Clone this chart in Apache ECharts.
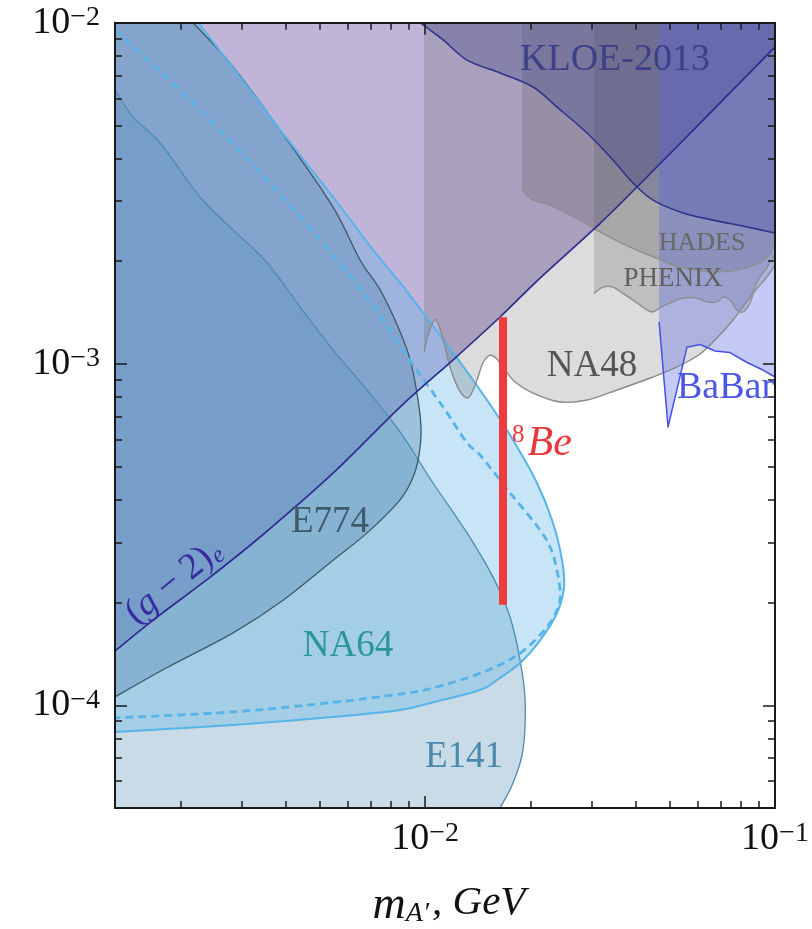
<!DOCTYPE html>
<html><head><meta charset="utf-8">
<script src="https://cdn.jsdelivr.net/npm/echarts@6/dist/echarts.min.js"></script>
<style>html,body{margin:0;padding:0;background:#fff}#c{width:812px;height:929px}</style>
</head><body><div id="c"></div>
<script>
// ---- axis ranges & ticks ----
const X_MIN = 0.0013, X_MAX = 0.1, Y_MIN = 5e-5, Y_MAX = 0.01;
const xMajorTicks = [0.01, 0.1];
const xMinorTicks = [0.002,0.003,0.004,0.005,0.006,0.007,0.008,0.009,0.02,0.03,0.04,0.05,0.06,0.07,0.08,0.09];
const yMajorTicks = [0.0001, 0.001, 0.01];
const yMinorTicks = [0.00006,0.00007,0.00008,0.00009,0.0002,0.0003,0.0004,0.0005,0.0006,0.0007,0.0008,0.0009,0.002,0.003,0.004,0.005,0.006,0.007,0.008,0.009];

// ---- curves [m_A' (GeV), epsilon] ----
const g2Line = [[1.30e-3,1.443e-4],[1.671e-3,1.777e-4],[2.431e-3,2.374e-4],[3.377e-3,3.112e-4],[5.459e-3,4.79e-4],[8.483e-3,7.48e-4],[1.219e-2,1.041e-3],[1.638e-2,1.373e-3],[2.131e-2,1.786e-3],[3.020e-2,2.47e-3],[4.034e-2,3.30e-3],[0.1,8.49e-3]];
const e774 = [[2.174e-3,1e-2],[2.828e-3,7.42e-3],[4.035e-3,4.53e-3],[5.459e-3,2.88e-3],[6.520e-3,2.017e-3],[7.437e-3,1.65e-3],[8.373e-3,1.283e-3],[9.061e-3,1.03e-3],[9.550e-3,7.84e-4],[9.74e-3,6.41e-4],[9.61e-3,5.41e-4],[9.242e-3,4.67e-4],[8.483e-3,4.00e-4],[6.827e-3,3.20e-4],[5.459e-3,2.66e-4],[3.929e-3,2.03e-4],[2.828e-3,1.63e-4],[1.832e-3,1.29e-4],[1.30e-3,1.058e-4]];
const e141 = [[1.30e-3,6.35e-3],[1.465e-3,5.29e-3],[1.750e-3,4.44e-3],[2.276e-3,3.085e-3],[2.828e-3,2.47e-3],[3.537e-3,1.98e-3],[4.394e-3,1.47e-3],[5.459e-3,1.10e-3],[6.827e-3,8.39e-4],[8.483e-3,6.32e-4],[1.054e-2,4.48e-4],[1.318e-2,3.20e-4],[1.564e-2,2.374e-4],[1.750e-2,1.81e-4],[1.868e-2,1.357e-4],[1.931e-2,1.04e-4],[1.905e-2,7.40e-5],[1.784e-2,5.92e-5],[1.638e-2,5.0e-5]];
const na64 = [[2.246e-3,1e-2],[2.961e-3,6.93e-3],[3.853e-3,4.85e-3],[5.459e-3,3.085e-3],[7.10e-3,2.158e-3],[8.483e-3,1.73e-3],[1.013e-2,1.364e-3],[1.219e-2,1.06e-3],[1.503e-2,7.84e-4],[1.784e-2,5.99e-4],[2.089e-2,4.48e-4],[2.321e-2,3.42e-4],[2.463e-2,2.66e-4],[2.495e-2,2.22e-4],[2.383e-2,1.864e-4],[2.131e-2,1.55e-4],[1.868e-2,1.33e-4],[1.605e-2,1.186e-4],[1.436e-2,1.108e-4],[1.054e-2,1.02e-4],[8.483e-3,9.69e-5],[5.459e-3,9.24e-5],[2.828e-3,8.76e-5],[1.30e-3,8.35e-5]];
const na64Dashed = [[1.30e-3,9.52e-3],[2.276e-3,5.55e-3],[4.394e-3,2.70e-3],[6.74e-3,1.59e-3],[8.65e-3,1.10e-3],[9.242e-3,9.93e-4],[1.126e-2,7.48e-4],[1.318e-2,5.87e-4],[1.436e-2,5.41e-4],[1.750e-2,4.19e-4],[2.131e-2,3.26e-4],[2.321e-2,2.76e-4],[2.431e-2,2.18e-4],[2.399e-2,1.94e-4],[2.232e-2,1.696e-4],[1.868e-2,1.42e-4],[1.465e-2,1.25e-4],[1.054e-2,1.124e-4],[8.483e-3,1.079e-4],[5.459e-3,1.02e-4],[2.828e-3,9.56e-5],[1.30e-3,9.18e-5]];
const na48 = [[9.934e-3,1.08e-3],[1.020e-2,1.216e-3],[1.068e-2,1.35e-3],[1.118e-2,1.216e-3],[1.179e-2,9.80e-4],[1.243e-2,8.50e-4],[1.301e-2,8.00e-4],[1.345e-2,8.06e-4],[1.408e-2,8.98e-4],[1.465e-2,1.01e-3],[1.534e-2,1.06e-3],[1.605e-2,1.034e-3],[1.693e-2,9.60e-4],[1.807e-2,8.86e-4],[2.035e-2,8.22e-4],[2.431e-2,7.74e-4],[2.904e-2,7.84e-4],[3.537e-2,8.39e-4],[4.482e-2,9.16e-4],[5.248e-2,9.80e-4],[6.105e-2,1.070e-3],[6.827e-2,1.192e-3],[7.586e-2,1.345e-3],[8.651e-2,1.61e-3],[9.487e-2,1.80e-3],[0.1,1.95e-3]];
const hades = [[1.893e-2,3.24e-3],[2.035e-2,3.02e-3],[2.276e-2,2.92e-3],[2.773e-2,2.64e-3],[3.162e-2,2.44e-3],[3.853e-2,2.20e-3],[4.603e-2,2.04e-3],[5.353e-2,1.92e-3],[6.652e-2,1.86e-3],[7.943e-2,1.89e-3],[9.061e-2,1.98e-3],[9.676e-2,2.11e-3],[0.1,2.26e-3]];
const phenix = [[3.040e-2,1.61e-3],[3.225e-2,1.68e-3],[3.444e-2,1.68e-3],[3.679e-2,1.61e-3],[4.034e-2,1.51e-3],[4.309e-2,1.44e-3],[4.482e-2,1.42e-3],[4.693e-2,1.46e-3],[5.012e-2,1.51e-3],[5.459e-2,1.56e-3],[5.985e-2,1.56e-3],[6.393e-2,1.52e-3],[6.827e-2,1.52e-3],[7.102e-2,1.57e-3],[7.437e-2,1.54e-3],[7.788e-2,1.44e-3],[8.101e-2,1.42e-3],[8.483e-2,1.51e-3],[8.767e-2,1.68e-3],[9.061e-2,1.80e-3],[9.487e-2,1.92e-3],[0.1,2.086e-3]];
const kloe = [[9.676e-3,1e-2],[1.126e-2,8.90e-3],[1.318e-2,7.77e-3],[1.638e-2,7.12e-3],[2.035e-2,6.48e-3],[2.383e-2,5.66e-3],[2.904e-2,4.75e-3],[3.444e-2,3.96e-3],[3.929e-2,3.39e-3],[4.482e-2,3.02e-3],[5.459e-2,2.77e-3],[6.652e-2,2.64e-3],[8.318e-2,2.52e-3],[0.1,2.42e-3]];
const babar = [[4.663e-2,1.33e-3],[4.947e-2,6.54e-4],[5.605e-2,1.12e-3],[6.105e-2,1.14e-3],[6.74e-2,1.092e-3],[7.437e-2,1.08e-3],[8.318e-2,1.01e-3],[9.242e-2,9.60e-4],[0.1,9.16e-4]];
const be8 = [[0.0167,1.97e-4],[0.0167,1.37e-3]];

const serif = "'Liberation Serif','DejaVu Serif',serif";

// Catmull-Rom drawing of a curve already mapped to pixels (rendering only)
function segs(P, smooth){
  let d = '';
  for (let i = 0; i < P.length - 1; i++) {
    const p1 = P[i], p2 = P[i+1];
    if (!smooth) { d += 'L' + p2[0] + ' ' + p2[1]; continue; }
    const p0 = P[i-1] || p1, p3 = P[i+2] || p2;
    d += 'C' + (p1[0] + (p2[0]-p0[0])/6) + ' ' + (p1[1] + (p2[1]-p0[1])/6) + ' '
       + (p2[0] - (p3[0]-p1[0])/6) + ' ' + (p2[1] - (p3[1]-p1[1])/6) + ' ' + p2[0] + ' ' + p2[1];
  }
  return d;
}
// region = corners before + curve + corners after, filled
function fill(curve, pre, post, color, smooth){
  return {type:'custom', coordinateSystem:'cartesian2d', clip:true, silent:true, animation:false, z:2,
    data: curve,
    renderItem:(params, api)=>{
      if (params.dataIndex !== 0) return null;
      const A = pre.map(p=>api.coord(p)), C = curve.map(p=>api.coord(p)), B = post.map(p=>api.coord(p));
      const head = A.concat([C[0]]);
      let d = 'M' + head[0][0] + ' ' + head[0][1];
      for (let i = 1; i < head.length; i++) d += 'L' + head[i][0] + ' ' + head[i][1];
      d += segs(C, smooth !== false);
      B.forEach(p => { d += 'L' + p[0] + ' ' + p[1]; });
      return {type:'path', shape:{pathData: d + 'Z'}, style:{fill:color, stroke:null}};
    }};
}
function stroke(curve, color, width, dash, smooth){
  return {type:'custom', coordinateSystem:'cartesian2d', clip:true, silent:true, animation:false, z:3,
    data: curve,
    renderItem:(params, api)=>{
      if (params.dataIndex !== 0) return null;
      const C = curve.map(p=>api.coord(p));
      const d = 'M' + C[0][0] + ' ' + C[0][1] + segs(C, smooth !== false);
      return {type:'path', shape:{pathData:d}, style:{fill:'none', stroke:color, lineWidth:width, lineDash:dash || null, lineCap:'butt', lineJoin:'round'}};
    }};
}

const tickRich = {
  a:{fontFamily:serif, fontSize:38, lineHeight:38, padding:[12,0,0,0], verticalAlign:'bottom', color:'#111'},
  b:{fontFamily:serif, fontSize:28, lineHeight:28, verticalAlign:'top', color:'#111'}
};
const powFmt = v => '{a|10}{b|\u2212' + Math.round(-Math.log10(v)) + '}';
const frame = {show:true, onZero:false, lineStyle:{color:'#1a1a1a', width:2}};
function ax(type, pos, ticks, len, labels, showLine){
  const o = {type:'log', position:pos, z:20, silent:true,
    axisLine: showLine ? frame : {show:false, onZero:false},
    axisTick:{show:true, inside:true, length:len, customValues:ticks, lineStyle:{color:'#1a1a1a', width:1.5}},
    axisLabel: labels ? {show:true, customValues:ticks, margin: type==='x'?12:15, formatter:powFmt, rich:tickRich} : {show:false},
    splitLine:{show:false}, minorTick:{show:false}, minorSplitLine:{show:false}};
  if (type==='x') { o.min=X_MIN; o.max=X_MAX; } else { o.min=Y_MIN; o.max=Y_MAX; }
  return o;
}
function txt(text, x, y, size, color){
  return {type:'text', x, y, z:50, silent:true,
    style:{text, fill:color, fontFamily:serif, fontSize:size, align:'center', verticalAlign:'middle', textAlign:'center', textVerticalAlign:'middle'}};
}

const chart = echarts.init(document.getElementById('c'), null, {renderer:'canvas'});
chart.setOption({
  backgroundColor:'#fff',
  animation:false,
  grid:{left:115, right:37, top:22.7, bottom:121, outerBoundsMode:'none', containLabel:false},
  xAxis:[ax('x','bottom',xMajorTicks,12,true,true), ax('x','bottom',xMinorTicks,7,false,false),
         ax('x','top',xMajorTicks,12,false,true), ax('x','top',xMinorTicks,7,false,false)],
  yAxis:[ax('y','left',yMajorTicks,12,true,true), ax('y','left',yMinorTicks,7,false,false),
         ax('y','right',yMajorTicks,12,false,true), ax('y','right',yMinorTicks,7,false,false)],
  series:[
    fill(g2Line, [], [[X_MAX,Y_MAX],[X_MIN,Y_MAX]], '#c0b5d9'),
    fill(e141, [], [[X_MIN,Y_MIN]], 'rgba(75,135,172,0.30)'),
    fill(e774, [[X_MIN,Y_MAX]], [], 'rgba(98,124,157,0.40)'),
    fill(na64, [[X_MIN,Y_MAX]], [], 'rgba(88,176,230,0.33)'),
    fill(na48, [[na48[0][0],Y_MAX]], [[X_MAX,Y_MAX]], 'rgba(70,70,70,0.19)'),
    fill(hades, [[hades[0][0],Y_MAX]], [[X_MAX,Y_MAX]], 'rgba(70,70,70,0.19)'),
    fill(phenix, [[phenix[0][0],Y_MAX]], [[X_MAX,Y_MAX]], 'rgba(70,70,70,0.19)'),
    fill(kloe, [], [[X_MAX,Y_MAX]], 'rgba(70,75,140,0.35)'),
    fill(babar, [[babar[0][0],Y_MAX]], [[X_MAX,Y_MAX]], 'rgba(90,100,230,0.35)', false),
    stroke(e141,'#4a8cb5',1.3),
    stroke(e774,'#3b5a66',1.3),
    stroke(na64,'#56b4e9',2),
    stroke(na64Dashed,'#56b4e9',2.8,[8,5]),
    stroke(na48,'#8a8a8a',1.4),
    stroke(hades,'#8e8e8e',1.4),
    stroke(phenix,'#8e8e8e',1.4),
    stroke(kloe,'#30338a',1.6),
    stroke(babar,'#4650e6',1.5,null,false),
    stroke(g2Line,'#2f2c8f',1.7),
    {type:'line', data:be8, symbol:'none', silent:true, animation:false, z:4, lineStyle:{color:'#ee3b3b', width:8, cap:'butt'}}
  ],
  graphic:[
    txt('KLOE-2013',615,60,38,'#3c4088'),
    txt('HADES',702,243.5,26,'#686868'),
    txt('PHENIX',673,279,27,'#606060'),
    txt('NA48',592,366.5,37,'#555555'),
    {type:'text', x:677, y:388, z:50, silent:true, style:{text:'BaBar', fill:'#4b55e6', fontFamily:serif, fontSize:38, align:'left', verticalAlign:'middle', textAlign:'left', textVerticalAlign:'middle'}},
    {type:'rect', z:60, silent:true, shape:{x:776.5, y:360, width:40, height:60}, style:{fill:'#fff'}},
    txt('E774',330,522.5,37,'#3f5a68'),
    txt('NA64',348,646.5,37,'#2b9598'),
    txt('E141',464,757.5,37,'#4b88ae'),
    {type:'text', x:512, y:444, z:50, silent:true, style:{text:'{s|8}{i|Be}', align:'left', verticalAlign:'middle', textAlign:'left', textVerticalAlign:'middle',
      rich:{s:{fontFamily:serif, fontSize:25, lineHeight:25, verticalAlign:'top', padding:[0,3,0,0], fill:'#e8383c', color:'#e8383c'},
            i:{fontFamily:serif, fontSize:42, lineHeight:42, fontStyle:'italic', verticalAlign:'bottom', fill:'#e8383c', color:'#e8383c'}}}},
    {type:'text', x:174, y:582, rotation:0.68, z:50, silent:true, style:{text:'{n|(}{i|g}{n| \u2212 2)}{e|e}', align:'center', verticalAlign:'middle', textAlign:'center', textVerticalAlign:'middle',
      rich:{n:{fontFamily:serif, fontSize:37, lineHeight:37, verticalAlign:'top', fill:'#3a2aa0', color:'#3a2aa0'},
            i:{fontFamily:serif, fontSize:37, lineHeight:37, fontStyle:'italic', verticalAlign:'top', fill:'#3a2aa0', color:'#3a2aa0'},
            e:{fontFamily:serif, fontSize:24, lineHeight:24, fontStyle:'italic', padding:[14,0,0,1], verticalAlign:'top', fill:'#3a2aa0', color:'#3a2aa0'}}}},
    {type:'text', x:449, y:903, z:50, silent:true, style:{text:'{m|m}{s|A\u2032}{g|, GeV}', align:'center', verticalAlign:'middle', textAlign:'center', textVerticalAlign:'middle',
      rich:{m:{fontFamily:serif, fontSize:46, lineHeight:40, fontStyle:'italic', verticalAlign:'top', fill:'#111'},
            s:{fontFamily:serif, fontSize:28, lineHeight:28, fontStyle:'italic', padding:[17,3,0,0], verticalAlign:'top', fill:'#111'},
            g:{fontFamily:serif, fontSize:41, lineHeight:40, fontStyle:'italic', verticalAlign:'top', fill:'#111'}}}}
  ]
});
</script></body></html>
